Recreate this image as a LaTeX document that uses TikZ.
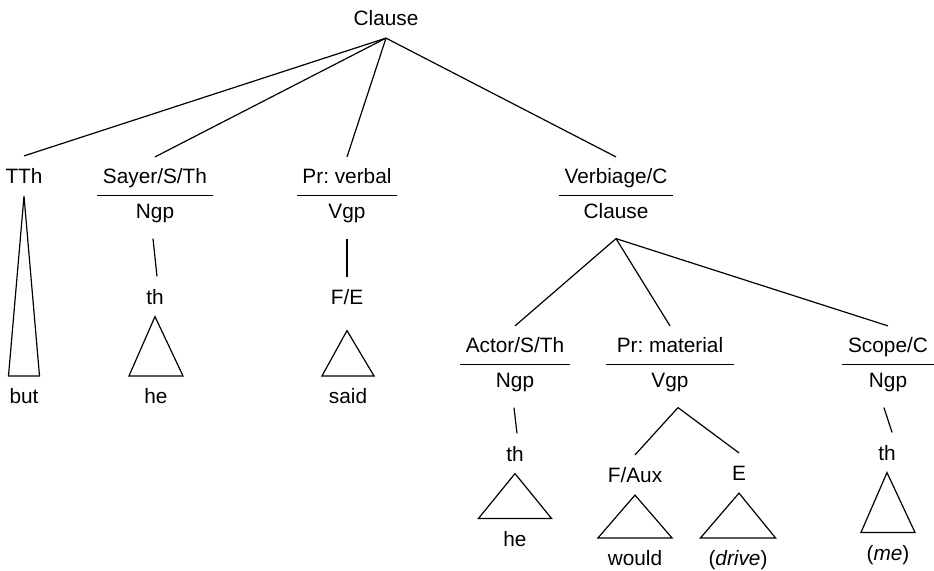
\documentclass[tikz,border=0pt]{standalone}
\usepackage{fontspec}
\setmainfont{Liberation Sans}
\usetikzlibrary{calc}
\frenchspacing

\begin{document}
\begin{tikzpicture}[
    x=0.5pt, y=-0.5pt, line width=0.6pt,
    every node/.style={font=\fontsize{10.4pt}{12pt}\selectfont, anchor=base,
                       inner xsep=0pt, inner ysep=6pt, text height=7.5pt, text depth=0pt},
    fn/.style={inner xsep=2.6pt, inner ysep=5.5pt},
    cls/.style={text depth=4pt}
  ]
    \useasboundingbox (0,0) rectangle (934,570);

    \node (root) at (386,25.5) {Clause};

    \node (tth) at (24,183.5) {TTh};
    \node[fn] (sayer) at (155,183.5) {Sayer/S/Th};
    \node[fn] (verbal) at (347,183.5) {Pr: verbal};
    \node[fn] (verbiage) at (616,183.5) {Verbiage/C};
    \node[cls] (ngpA) at (155,218) {Ngp};
    \node[cls] (vgpA) at (347,218) {Vgp};
    \node[cls] (clauseB) at (616,218) {Clause};
    \node (thA) at (155,304) {th};
    \node (fe) at (347,304.5) {F/E};
    \node (but) at (24,403.5) {but};
    \node (heA) at (156,403.5) {he};
    \node (said) at (348,403.5) {said};

    \node[fn] (actor) at (515,352.5) {Actor/S/Th};
    \node[fn, minimum width=63.5pt] (material) at (670,352.5) {Pr: material};
    \node[fn] (scope) at (888,352.5) {Scope/C};
    \node[cls] (ngpB) at (515,387) {Ngp};
    \node[cls] (vgpB) at (670,387) {Vgp};
    \node[cls] (ngpC) at (888,387) {Ngp};
    \node (thB) at (515,461) {th};
    \node (faux) at (635,482.5) {F/Aux};
    \node (e) at (739,480.5) {E};
    \node (thC) at (887,460) {th};
    \node (heB) at (515,546) {he};
    \node (would) at (635,565.5) {would};
    \node (drive) at (738,565.5) {(\textit{drive})};
    \node (me) at (888,560) {(\textit{me})};

    \foreach \n in {tth,sayer,verbal,verbiage}
      \draw (root.south) -- (\n.north);
    \foreach \n in {actor,material,scope}
      \draw (clauseB.south) -- (\n.north);
    \foreach \n in {sayer,verbal,verbiage,actor,material,scope}
      \draw (\n.south west) -- (\n.south east);

    \draw ([xshift=-1pt]ngpA.south) -- ([xshift=1pt]thA.north);
    \draw (vgpA.south) -- (fe.north);
    \draw ([xshift=-0.5pt]ngpB.south) -- ([xshift=1pt]thB.north);
    \draw ([xshift=4pt]vgpB.south) -- (faux.north);
    \draw ([xshift=4pt]vgpB.south) -- (e.north);
    \draw ([xshift=-2pt]ngpC.south) -- ([xshift=2.5pt]thC.north);

    % triangles: apex node / word node / half base / apex drop
    \foreach \a/\b/\w/\d in {tth/but/15.5/0, thA/heA/27/0, fe/said/26/13.5,
                             thB/heB/36.5/0, faux/would/37/0, e/drive/37.5/0, thC/me/27/0}
      \draw ($(\a.south)+(0,\d)$) -- ($(\b.north)+(-\w,0)$) -- ($(\b.north)+(\w,0)$) -- cycle;
  \end{tikzpicture}
\end{document}
